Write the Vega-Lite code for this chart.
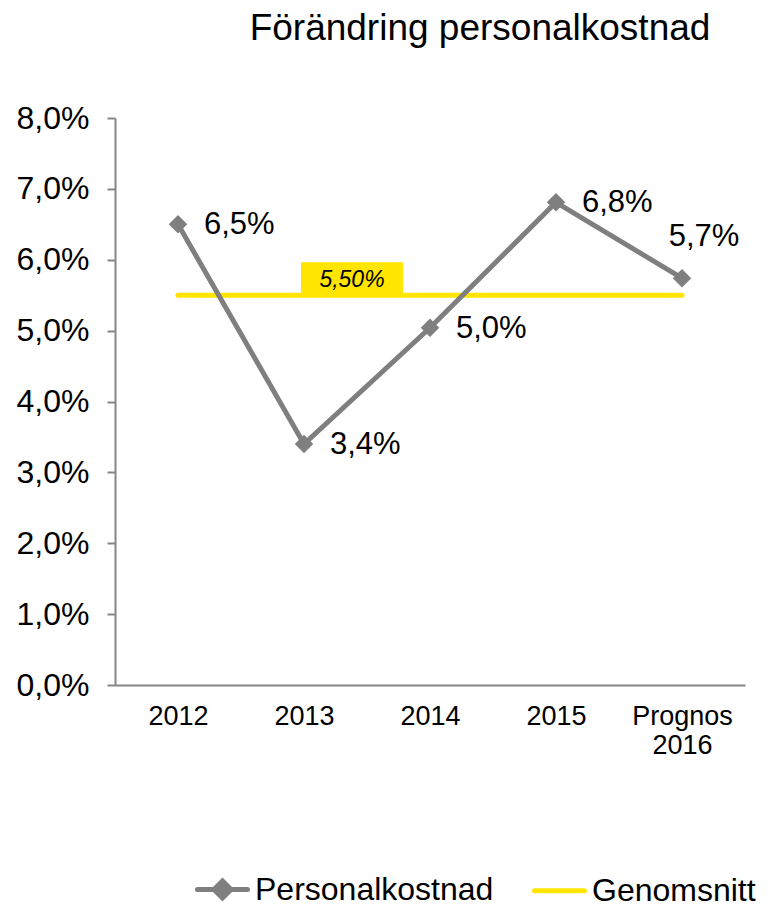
{
  "$schema": "https://vega.github.io/schema/vega-lite/v6.json",
  "autosize": {"type": "none"},
  "width": 630,
  "height": 567,
  "padding": {"left": 115, "top": 118, "right": 24, "bottom": 221},
  "background": "white",
  "config": {
    "font": "Liberation Sans",
    "view": {"stroke": null},
    "axis": {"grid": false, "domainColor": "#868686", "tickColor": "#868686", "labelColor": "#000000", "labelFont": "Liberation Sans"}
  },
  "title": {
    "text": "Förändring personalkostnad",
    "fontSize": 37,
    "fontWeight": "normal",
    "color": "#000000",
    "anchor": "middle",
    "dx": 50,
    "offset": 54
  },
  "datasets": {
    "cost": [
      {"year": "2012", "value": 6.5, "label": "6,5%", "series": "Personalkostnad"},
      {"year": "2013", "value": 3.4, "label": "3,4%", "series": "Personalkostnad"},
      {"year": "2014", "value": 5.04, "label": "5,0%", "series": "Personalkostnad"},
      {"year": "2015", "value": 6.81, "label": "6,8%", "series": "Personalkostnad"},
      {"year": "Prognos 2016", "value": 5.74, "label": "5,7%", "series": "Personalkostnad"}
    ],
    "avg": [
      {"year": "2012", "value": 5.5, "series": "Genomsnitt"},
      {"year": "2013", "value": 5.5, "series": "Genomsnitt"},
      {"year": "2014", "value": 5.5, "series": "Genomsnitt"},
      {"year": "2015", "value": 5.5, "series": "Genomsnitt"},
      {"year": "Prognos 2016", "value": 5.5, "series": "Genomsnitt"}
    ],
    "avglabel": [
      {"year": "2013", "value": 5.5, "label": "5,50%"}
    ]
  },
  "encoding": {
    "x": {
      "field": "year", "type": "nominal", "sort": null,
      "scale": {"type": "point", "padding": 0.5, "domain": ["2012", "2013", "2014", "2015", "Prognos 2016"]},
      "axis": {"title": null, "labelAngle": 0, "ticks": false, "domainWidth": 2, "labelFontSize": 27, "labelPadding": 18, "labelLineHeight": 29, "labelExpr": "split(datum.value, ' ')"}
    },
    "y": {
      "field": "value", "type": "quantitative",
      "scale": {"domain": [0, 8], "nice": false},
      "axis": {"title": null, "values": [0, 1, 2, 3, 4, 5, 6, 7, 8], "tickSize": 8, "tickWidth": 2, "domainWidth": 2, "labelFontSize": 32, "labelPadding": 18, "labelExpr": "replace(format(datum.value, '.1f'), '.', ',') + '%'"}
    }
  },
  "layer": [
    {
      "data": {"name": "avg"},
      "mark": {"type": "line", "strokeWidth": 5, "strokeCap": "round"},
      "encoding": {
        "color": {
          "field": "series", "type": "nominal",
          "scale": {"domain": ["Personalkostnad", "Genomsnitt"], "range": ["#7F7F7F", "#FFE500"]},
          "legend": {
            "title": null, "orient": "none", "direction": "horizontal", "legendX": 80, "legendY": 744,
            "labelFontSize": 32, "labelColor": "#000000", "labelOffset": 5, "labelLimit": 0, "columnPadding": 30,
            "symbolSize": 2500, "symbolStrokeWidth": 5,
            "encode": {
              "symbols": {
                "update": {
                  "shape": {"signal": "datum.value === 'Personalkostnad' ? 'M-1,0L1,0M-0.34,0L0,-0.34L0.34,0L0,0.34Z' : 'M-1,0L1,0'"},
                  "fill": {"scale": "color", "field": "value"},
                  "stroke": {"scale": "color", "field": "value"},
                  "strokeCap": {"value": "round"}
                }
              }
            }
          }
        }
      }
    },
    {
      "data": {"name": "avglabel"},
      "mark": {"type": "point", "filled": true, "opacity": 1, "color": "#FFE500", "size": 10404, "shape": "M-1,-0.32L1,-0.32L1,0.32L-1,0.32Z", "xOffset": 48, "yOffset": -16.5, "strokeWidth": 0},
      "encoding": {}
    },
    {
      "data": {"name": "avglabel"},
      "mark": {"type": "text", "fontSize": 23, "fontStyle": "italic", "color": "#000000", "dx": 48, "dy": -15, "align": "center", "baseline": "middle"},
      "encoding": {"text": {"field": "label"}}
    },
    {
      "data": {"name": "cost"},
      "mark": {"type": "line", "strokeWidth": 5, "color": "#7F7F7F"},
      "encoding": {}
    },
    {
      "data": {"name": "cost"},
      "mark": {"type": "point", "shape": "diamond", "filled": true, "opacity": 1, "size": 340, "color": "#7F7F7F"},
      "encoding": {}
    },
    {
      "data": {"name": "cost"},
      "transform": [{"filter": "datum.year !== 'Prognos 2016'"}],
      "mark": {"type": "text", "fontSize": 31, "color": "#000000", "align": "left", "baseline": "middle", "dx": 26, "dy": 1},
      "encoding": {"text": {"field": "label"}}
    },
    {
      "data": {"name": "cost"},
      "transform": [{"filter": "datum.year === 'Prognos 2016'"}],
      "mark": {"type": "text", "fontSize": 31, "color": "#000000", "align": "center", "baseline": "middle", "dx": 22, "dy": -41},
      "encoding": {"text": {"field": "label"}}
    }
  ]
}
